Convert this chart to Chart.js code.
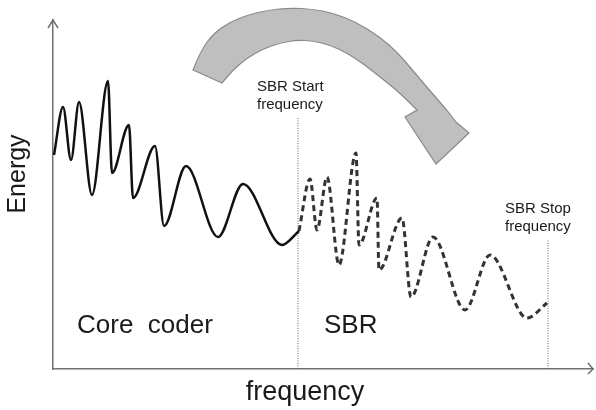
<!DOCTYPE html>
<html lang="en">

<head>
    <meta charset="UTF-8">
    <title>SBR</title>
    <style>
        body { margin: 0; background: #fff; }
        #wrap { width: 596px; height: 410px; }
    </style>
</head>

<body>
    <div id="wrap"><canvas id="myChart" width="596" height="410"></canvas></div>
    <script src="https://cdn.jsdelivr.net/npm/chart.js@4/dist/chart.umd.min.js"></script>
    <script>
        // core coder band (solid): peaks and troughs
        const coreX = [1, 10, 18, 26, 39, 55, 59, 76, 80, 102, 111, 133, 165, 190, 229, 246]
        const coreY = [214, 262, 209, 267, 174, 288, 196, 244, 171, 223, 143, 203, 132, 185, 124, 138]
        // SBR band (dashed)
        const sbrX = [246, 257, 264, 274, 286, 303, 306, 324, 326, 349, 358, 380, 412, 437, 474, 494]
        const sbrY = [138, 190, 139, 192, 104, 216, 124, 171, 99, 151, 72, 132, 59, 114, 51, 66]
        // start / stop frequency markers and how high their dotted lines go
        const markerX = [245, 495]
        const markerTop = [252, 129]
        const markerText = [['SBR Start', 'frequency'], ['SBR Stop', 'frequency']]

        const xMax = 540
        const yMax = 349

        function pts(xs, ys) {
            return xs.map((x, i) => ({ x: x, y: ys[i] }))
        }

        const markerSets = markerX.map((x, i) => ({
            data: [{ x: x, y: 0 }, { x: x, y: markerTop[i] }],
            borderColor: '#666',
            borderWidth: 1,
            borderDash: [1, 1.5],
            pointRadius: 0,
            tension: 0
        }))

        const decor = {
            id: 'decor',
            afterDatasetsDraw(chart) {
                const ctx = chart.ctx
                const a = chart.chartArea
                const xs = chart.scales.x

                // axis arrows
                ctx.save()
                ctx.strokeStyle = '#707070'
                ctx.lineWidth = 1.5
                ctx.beginPath()
                ctx.moveTo(a.left - 5, a.top + 8)
                ctx.lineTo(a.left, a.top)
                ctx.lineTo(a.left + 5, a.top + 8)
                ctx.moveTo(a.right - 5, a.bottom - 6)
                ctx.lineTo(a.right, a.bottom)
                ctx.lineTo(a.right - 5, a.bottom + 5)
                ctx.stroke()

                // big curved arrow
                const outer = [[193, 70], [201, 50], [214, 33], [230, 22], [248, 15], [268, 10], [290, 8], [312, 9], [333, 13], [356, 22], [380, 37], [398, 53], [414, 72], [431, 92], [446, 109], [456, 122]]
                const inner = [[417, 110], [406, 99], [394, 88], [380, 77], [365, 65], [347, 53], [330, 45], [313, 41], [297, 40], [280, 43], [263, 49], [247, 58], [233, 70], [222, 83]]
                function smooth(p, first) {
                    if (first) ctx.moveTo(p[0][0], p[0][1])
                    else ctx.lineTo(p[0][0], p[0][1])
                    for (let i = 1; i < p.length - 1; i++) {
                        const mx = (p[i][0] + p[i + 1][0]) / 2
                        const my = (p[i][1] + p[i + 1][1]) / 2
                        ctx.quadraticCurveTo(p[i][0], p[i][1], mx, my)
                    }
                    ctx.lineTo(p[p.length - 1][0], p[p.length - 1][1])
                }
                ctx.beginPath()
                smooth(outer, true)
                ctx.lineTo(469, 133)
                ctx.lineTo(436, 164)
                ctx.lineTo(405, 117)
                smooth(inner, false)
                ctx.closePath()
                ctx.fillStyle = '#bfbfbf'
                ctx.fill()
                ctx.strokeStyle = '#8a8a8a'
                ctx.lineWidth = 1.2
                ctx.stroke()

                // texts
                ctx.fillStyle = '#1a1a1a'
                ctx.textBaseline = 'alphabetic'
                ctx.textAlign = 'left'
                ctx.font = '15px "Liberation Sans", Arial, sans-serif'
                const lblLeft = [257, 505]
                const lblBase = [91, 213]
                markerText.forEach((lines, i) => {
                    lines.forEach((t, j) => ctx.fillText(t, lblLeft[i], lblBase[i] + j * 18))
                })

                ctx.font = '26px "Liberation Sans", Arial, sans-serif'
                ctx.fillText('Core  coder', 77, 333)
                ctx.fillText('SBR', xs.getPixelForValue(markerX[0]) + 26, 333)

                ctx.font = '27px "Liberation Sans", Arial, sans-serif'
                ctx.textAlign = 'center'
                ctx.fillText('frequency', 305, 400)

                ctx.font = '25px "Liberation Sans", Arial, sans-serif'
                ctx.translate(25, 174)
                ctx.rotate(-Math.PI / 2)
                ctx.fillText('Energy', 0, 0)
                ctx.restore()
            }
        }

        const ctx = document.querySelector('#myChart').getContext('2d')
        let chart = new Chart(ctx, {
            type: 'line',
            data: {
                datasets: [{
                    data: pts(coreX, coreY),
                    borderColor: '#111',
                    borderWidth: 2.5,
                    pointRadius: 0,
                    cubicInterpolationMode: 'monotone'
                }, {
                    data: pts(sbrX, sbrY),
                    borderColor: '#333',
                    borderWidth: 3,
                    borderDash: [6, 4],
                    pointRadius: 0,
                    cubicInterpolationMode: 'monotone'
                }].concat(markerSets)
            },
            options: {
                responsive: false,
                animation: false,
                layout: { padding: { left: 53, top: 20, right: 3, bottom: 41 } },
                plugins: { legend: { display: false }, tooltip: { enabled: false } },
                scales: {
                    x: {
                        type: 'linear', min: 0, max: xMax,
                        ticks: { display: false },
                        grid: { display: false, drawTicks: false },
                        border: { display: true, color: '#707070', width: 1.5 }
                    },
                    y: {
                        min: 0, max: yMax,
                        ticks: { display: false },
                        grid: { display: false, drawTicks: false },
                        border: { display: true, color: '#707070', width: 1.5 }
                    }
                }
            },
            plugins: [decor]
        })
    </script>
</body>

</html>
